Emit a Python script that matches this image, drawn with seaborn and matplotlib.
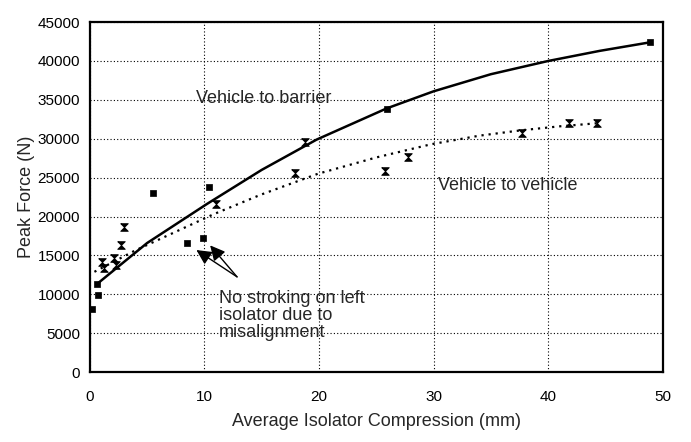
import matplotlib
matplotlib.use("Agg")
import matplotlib.pyplot as plt
import seaborn as sns
import pandas as pd

# ---- data ----
barrier_x = [0.2, 0.7, 0.6, 5.5, 8.5, 9.9, 10.4, 25.9, 48.9]
barrier_y = [8100, 9900, 11300, 23000, 16600, 17200, 23800, 33800, 42400]

vehicle_x = [1.1, 1.24, 2.15, 2.27, 2.7, 3.0, 11.0, 17.9, 18.8, 25.8, 27.8, 37.7, 41.8, 44.3]
vehicle_y = [14100, 13400, 14700, 13800, 16300, 18700, 21600, 25600, 29600, 25800, 27600, 30800, 32000, 32000]

barrier_fit_x = [0.6, 5, 10.2, 15, 19.8, 25.9, 30, 35, 40, 44.5, 48.9]
barrier_fit_y = [11300, 16600, 21600, 26000, 29900, 33900, 36100, 38300, 40000, 41300, 42400]

vehicle_fit_x = [0.4, 3.9, 10.8, 14.9, 19.9, 25, 29.8, 34, 37.7, 41, 44.3]
vehicle_fit_y = [12900, 15600, 20300, 22800, 25500, 27600, 29300, 30400, 31100, 31600, 32000]

x_ticks = [0, 10, 20, 30, 40, 50]
y_ticks = [0, 5000, 10000, 15000, 20000, 25000, 30000, 35000, 40000, 45000]

sns.set_style("white")
plt.rcParams["font.family"] = ["Liberation Sans", "DejaVu Sans"]

fig = plt.figure(figsize=(6.91, 4.42), dpi=100)
ax = fig.add_axes([0.130, 0.158, 0.829, 0.792])

df_bf = pd.DataFrame({"x": barrier_fit_x, "y": barrier_fit_y})
df_vf = pd.DataFrame({"x": vehicle_fit_x, "y": vehicle_fit_y})
sns.lineplot(data=df_bf, x="x", y="y", ax=ax, color="black", lw=1.8,
             sort=False, estimator=None)
sns.lineplot(data=df_vf, x="x", y="y", ax=ax, color="black", lw=1.6,
             linestyle=(0, (1, 2.2)), sort=False, estimator=None)

df_b = pd.DataFrame({"x": barrier_x, "y": barrier_y})
df_v = pd.DataFrame({"x": vehicle_x, "y": vehicle_y})
sns.scatterplot(data=df_b, x="x", y="y", ax=ax, marker="s", s=18,
                color="black", edgecolor="black", linewidth=0.5, zorder=5)
hourglass = [(-1, 1), (1, 1), (-1, -1), (1, -1), (-1, 1)]
sns.scatterplot(data=df_v, x="x", y="y", ax=ax, marker=hourglass, s=30,
                color="black", edgecolor="black", linewidth=0.6, zorder=5)

ax.set_xlim(0, 50)
ax.set_ylim(0, 45000)
ax.set_xticks(x_ticks)
ax.set_yticks(y_ticks)
ax.set_xticklabels([str(t) for t in x_ticks])
ax.set_yticklabels([str(t) for t in y_ticks])
ax.grid(True, color="black", linestyle=(0, (1, 2)), linewidth=0.8)
for s in ax.spines.values():
    s.set_visible(True)
    s.set_color("black")
    s.set_linewidth(1.6)
ax.tick_params(axis="both", direction="inout", length=6, width=1,
               labelsize=11, colors="black")
ax.tick_params(axis="x", pad=10)
ax.tick_params(axis="y", pad=4)

ax.set_xlabel("Average Isolator Compression (mm)", fontsize=13, labelpad=6)
ax.set_ylabel("Peak Force (N)", fontsize=13, labelpad=2)

ax.text(9.3, 35200, "Vehicle to barrier", fontsize=13, va="center", ha="left",
        zorder=6)
ax.text(30.4, 24000, "Vehicle to vehicle", fontsize=13, va="center", ha="left",
        zorder=6)
ax.text(11.3, 10600, "No stroking on left\nisolator due to\nmisalignment",
        fontsize=13, va="top", ha="left", linespacing=1.0, zorder=6)
for tip in [(9.3, 15700), (10.5, 16300)]:
    ax.annotate("", xy=tip, xytext=(12.85, 12250),
                arrowprops=dict(arrowstyle="-|>,head_length=0.9,head_width=0.45",
                                color="black", lw=1.0, shrinkA=0, shrinkB=0),
                zorder=6)

fig.savefig("out.png", dpi=100)
